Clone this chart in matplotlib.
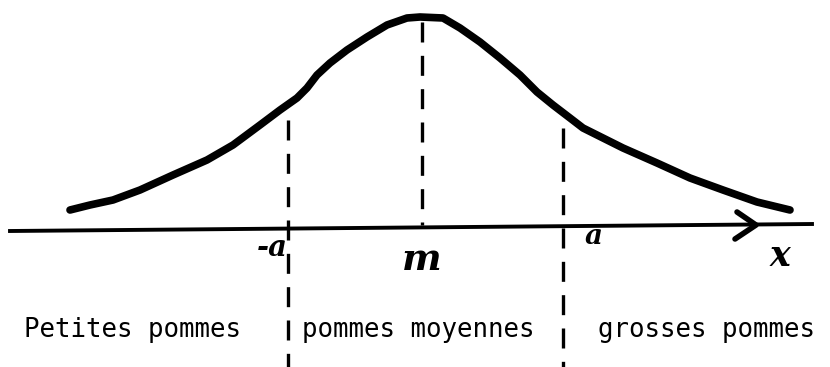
import matplotlib.pyplot as plt

# hand-drawn bell curve, coordinates (pixel units, y down)
curve_x = [70, 90, 113, 140, 173, 207, 233, 260, 280, 297, 307, 317, 330, 347, 367, 387,
           407, 420, 443, 460, 480, 500, 520, 537, 553, 570, 583, 603, 623, 657, 690, 723, 757, 790]
curve_y = [210, 205, 200, 190, 175, 160, 145, 125, 110, 98, 88, 75, 63, 50, 37, 25,
           18, 17, 18, 28, 42, 58, 75, 92, 105, 118, 128, 138, 148, 163, 178, 190, 202, 210]

axis_x = [10, 812]
axis_y = [231, 224]

# dashed separators: x, top, bottom
dash_x = [288, 422, 563]
dash_top = [120, 22, 128]
dash_bot = [367, 225, 367]

marks = ['-a', 'm', 'a', 'x']
marks_x = [272, 422, 594, 780]
marks_y = [247, 260, 236, 256]
marks_size = [21, 27, 20, 25]

groups = ['Petites pommes', 'pommes moyennes', 'grosses pommes']
groups_x = [24, 302, 598]

fig = plt.figure(figsize=(8.3, 3.67), dpi=100)
ax = fig.add_axes([0, 0, 1, 1])
ax.set_xlim(0, 830)
ax.set_ylim(367, 0)
ax.axis('off')

ax.plot(curve_x, curve_y, color='black', lw=5.5, solid_capstyle='round', solid_joinstyle='round')
ax.plot(axis_x, axis_y, color='black', lw=2.8)
# arrow head
ax.plot([737, 756, 735], [212, 225, 239], color='black', lw=4, solid_capstyle='round')

for x, t, b in zip(dash_x, dash_top, dash_bot):
    ax.plot([x, x], [t, b], color='black', lw=2.4, linestyle=(0, (6, 4)))

for s, x, y, fs in zip(marks, marks_x, marks_y, marks_size):
    ax.text(x, y, s, fontsize=fs, fontstyle='italic', fontweight='bold',
            family='DejaVu Serif', ha='center', va='center')

for s, x in zip(groups, groups_x):
    ax.text(x, 337, s, fontsize=18.5, family='DejaVu Sans Mono', ha='left', va='baseline')

fig.savefig('out.png', dpi=100)
